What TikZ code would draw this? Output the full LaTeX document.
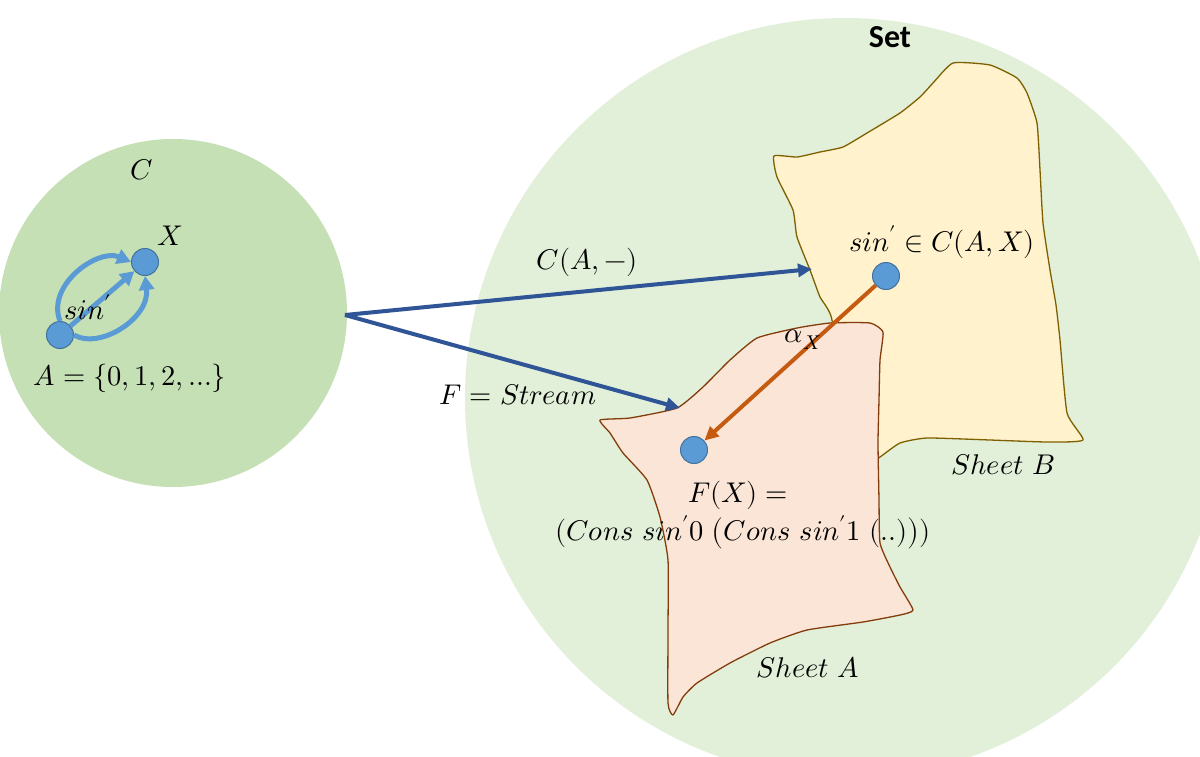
\documentclass[tikz,border=0pt]{standalone}
\usepackage{fontspec}
\usepackage{unicode-math}
\newfontfamily\carlito{Carlito}
\usetikzlibrary{arrows.meta}
\definecolor{setgreen}{HTML}{E2F0D9}
\definecolor{cgreen}{HTML}{C5E0B4}
\definecolor{dotblue}{HTML}{5B9BD5}
\definecolor{dotedge}{HTML}{41719C}
\definecolor{darkblue}{HTML}{2F5597}
\definecolor{sheetBfill}{HTML}{FFF2CC}
\definecolor{sheetBedge}{HTML}{7F6000}
\definecolor{sheetAfill}{HTML}{FBE5D6}
\definecolor{sheetAedge}{HTML}{843C0C}
\definecolor{orangearrow}{HTML}{C55A11}
\begin{document}
\begin{tikzpicture}[x=1pt,y=-1pt,
  txt/.style={font=\fontsize{28.5}{32}\selectfont, inner sep=0pt},
  dot/.style={circle, fill=dotblue, draw=dotedge, line width=1pt, minimum size=27pt, inner sep=0pt},
  bluearrow/.style={draw=darkblue, line width=4pt, -{Triangle[length=14pt,width=13pt]}},
  lightarrow/.style={draw=dotblue, line width=5pt, -{Triangle[length=14pt,width=15pt]}},
  orarrow/.style={draw=orangearrow, line width=4pt, -{Triangle[length=14pt,width=13pt]}},
  sheetB/.style={fill=sheetBfill, draw=sheetBedge, line width=1.3pt, line join=round},
  sheetA/.style={fill=sheetAfill, draw=sheetAedge, line width=1.3pt, line join=round}
]
\useasboundingbox (0,0) rectangle (1200,756);
\fill[white] (0,0) rectangle (1200,756);
\begin{scope}
\clip (0,0) rectangle (1200,756);
% Set circle
\fill[setgreen] (845,398) circle[radius=380];
% C circle
\fill[cgreen] (173,313) circle[radius=174];
% Sheet B
\path[sheetB] plot[smooth cycle, tension=0.3] coordinates {(774,156) (797,157) (820,152) (843,147) (867,133) (900,113) (920,97) (933,83) (953,63) (990,65) (1017,78) (1027,93) (1037,123) (1040,170) (1043,223) (1050,270) (1056,305) (1060,340) (1067,413) (1083,440) (1047,442) (990,440) (927,438) (900,443) (880,457) (860,470) (840,420) (832,320) (820,297) (810,270) (797,237) (793,210) (777,177)};
% Sheet A
\path[sheetA] plot[smooth cycle, tension=0.3] coordinates {(600,420) (630,418) (677,408) (703,387) (730,360) (757,338) (797,328) (830,323) (870,323) (883,332) (880,360) (879,400) (878,443) (879,500) (880,543) (890,567) (900,587) (913,610) (900,615) (863,622) (807,630) (770,643) (730,663) (697,683) (683,697) (673,715) (668,703) (668,630) (668,560) (660,517) (647,480) (623,453) (610,433)};
\end{scope}

% dots
\node[dot] (A) at (60,335) {};
\node[dot] (X) at (145,262) {};
\node[dot] (s) at (886,276) {};
\node[dot] (FX) at (694,450) {};

% arrows in C
\draw[lightarrow] (A) -- (X);
\draw[lightarrow] (A.north) .. controls (46,285) and (98,248) .. (X.west);
\draw[lightarrow] (A.east) .. controls (100,350) and (150,318) .. (X.south);

% functor arrows
\coordinate (src) at (345,315);
\coordinate (tipB) at (812,269);
\coordinate (tipA) at (680,408);
\draw[bluearrow] (src) -- (tipB);
\draw[bluearrow] (src) -- (tipA);

% alpha
\draw[orarrow] (s) -- (FX);

% labels
\node[font=\carlito\bfseries\fontsize{32}{36}\selectfont, inner sep=0pt] (setlbl) at (890,37) {Set};
\node[txt] (Clbl) at (142,170) {$C$};
\node[txt] (Xlbl) at (170,236) {$X$};
\node[txt] (sinlbl) at (88,307) {$sin'$};
\node[txt] (Albl) at (130,378) {$A=\{0,1,2,\ldots\}$};
\node[txt] (hom) at (587,262) {$C(A,-)$};
\node[txt] (Flbl) at (518,395) {$F=Stream$};
\node[txt] (slbl) at (942,242) {$sin'\in C(A,X)$};
\node[txt] (alpha) at (803,340) {$\alpha_X$};
\node[txt] (FX1) at (738,495) {$F(X)=$};
\node[txt] (FX2) at (743,533) {$(Cons\ sin'0\ \bigl(Cons\ sin'1\ (..)\bigr))$};
\node[txt] (shB) at (1003,465) {$Sheet\ B$};
\node[txt] (shA) at (808,668) {$Sheet\ A$};
\end{tikzpicture}
\end{document}
